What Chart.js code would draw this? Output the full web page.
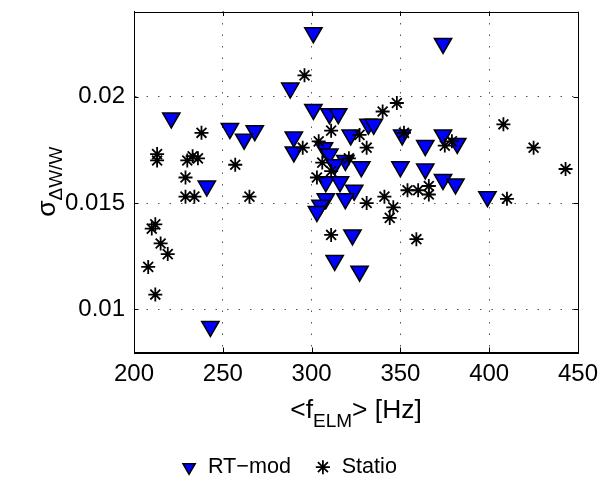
<!DOCTYPE html>
<html>
<head>
<meta charset="utf-8">
<script src="https://cdn.jsdelivr.net/npm/chart.js@4.4.1/dist/chart.umd.min.js"></script>
<style>
  body { margin: 0; background: #fff; }
  canvas { display: block; }
</style>
</head>
<body>
<canvas id="elm-scatter" width="602" height="497"></canvas>
<script>
const xTicks = [200, 250, 300, 350, 400, 450];
const yTicks = [0.01, 0.015, 0.02];
const yTickLabels = ["0.01", "0.015", "0.02"];

// RT-mod series: <f_ELM> [Hz] and sigma
const rtModF = [301, 374, 288, 301, 310, 315, 221, 332, 335, 254, 268, 290, 322, 351, 374,
    262, 382, 290, 307, 364, 310, 319, 313, 328, 350, 364, 374, 381, 241, 308,
    316, 324, 308, 319, 399, 305, 303, 323, 313, 327, 243];
const rtModSigma = [0.0230, 0.0225, 0.0204, 0.0194, 0.0192, 0.0192, 0.0190, 0.0187, 0.0187, 0.0185, 0.0184, 0.0181, 0.0182, 0.0182, 0.0182,
    0.0180, 0.0178, 0.0174, 0.0176, 0.0177, 0.0173, 0.0170, 0.0168, 0.0167, 0.0167, 0.0166, 0.0161, 0.0159, 0.0158, 0.0160,
    0.0160, 0.0156, 0.0152, 0.0152, 0.0153, 0.0149, 0.0146, 0.0135, 0.0123, 0.0118, 0.0092];

// Statio series
const statioF = [296, 348, 340, 311, 238, 327, 352, 304, 379, 408, 295, 331, 375, 425, 213,
    213, 230, 233, 236, 321, 306, 257, 443, 311, 229, 303, 229, 234, 265, 354,
    360, 366, 366, 341, 410, 331, 346, 344, 210, 212, 311, 359, 215, 219, 208, 212];
const statioSigma = [0.0210, 0.0197, 0.0193, 0.0184, 0.0183, 0.0182, 0.0183, 0.0179, 0.0179, 0.0187, 0.0176, 0.0176, 0.0177, 0.0176, 0.0173,
    0.0170, 0.0170, 0.0172, 0.0171, 0.0171, 0.0169, 0.0168, 0.0166, 0.0165, 0.0162, 0.0162, 0.0153, 0.0153, 0.0153, 0.0156,
    0.0156, 0.0158, 0.0154, 0.0153, 0.0152, 0.0150, 0.0148, 0.0143, 0.0138, 0.0140, 0.0135, 0.0133, 0.0131, 0.0126, 0.0120, 0.0107];

const FONT = '"Liberation Sans", Arial, sans-serif';
Chart.defaults.font.family = FONT;
Chart.defaults.color = "#000";

// text with a subscript part, centred on x
function drawRich(ctx, parts, x, y, mainSize, subSize, subDrop) {
    let total = 0;
    parts.forEach(p => {
        ctx.font = (p.sub ? subSize : mainSize) + "px " + FONT;
        p.w = ctx.measureText(p.t).width;
        total += p.w;
    });
    let cx = x - total / 2;
    parts.forEach(p => {
        ctx.font = (p.sub ? subSize : mainSize) + "px " + FONT;
        ctx.fillText(p.t, cx, p.sub ? y + subDrop : y);
        cx += p.w;
    });
}

const framePlugin = {
    id: "frame",
    afterDraw(chart) {
        const {ctx, chartArea: a, scales: {x, y}} = chart;
        ctx.save();
        ctx.strokeStyle = "#000";
        ctx.lineWidth = 1;
        ctx.strokeRect(Math.round(a.left) + 0.5, Math.round(a.top) + 0.5,
            Math.round(a.right - a.left), Math.round(a.bottom - a.top));
        const tick = 4.5;
        ctx.beginPath();
        xTicks.slice(1, -1).forEach(v => {
            const px = Math.round(x.getPixelForValue(v)) + 0.5;
            ctx.moveTo(px, a.bottom); ctx.lineTo(px, a.bottom - tick);
            ctx.moveTo(px, a.top); ctx.lineTo(px, a.top + tick);
        });
        yTicks.forEach(v => {
            const py = Math.round(y.getPixelForValue(v)) + 0.5;
            ctx.moveTo(a.left, py); ctx.lineTo(a.left + tick, py);
            ctx.moveTo(a.right, py); ctx.lineTo(a.right - tick, py);
        });
        ctx.stroke();

        ctx.fillStyle = "#000";
        ctx.textAlign = "left";
        ctx.textBaseline = "alphabetic";
        drawRich(ctx, [{t: "<f"}, {t: "ELM", sub: true}, {t: "> [Hz]"}],
            (a.left + a.right) / 2, 418, 26.4, 19, 9);

        ctx.translate(55, (a.top + a.bottom) / 2);
        ctx.rotate(-Math.PI / 2);
        drawRich(ctx, [{t: "σ"}, {t: "ΔW/W", sub: true}], 0, 0, 26.4, 19, 7);
        ctx.restore();
    }
};

const gridStyle = {color: "#555", lineWidth: 1, drawTicks: false};

new Chart(document.getElementById("elm-scatter"), {
    type: "scatter",
    data: {
        datasets: [{
            label: "RT−mod",
            data: rtModF.map((f, i) => ({x: f, y: rtModSigma[i]})),
            pointStyle: "triangle",
            pointRotation: 180,
            pointRadius: 10,
            pointHoverRadius: 10,
            backgroundColor: "#0000ff",
            borderColor: "#000",
            borderWidth: 1.5,
            order: 1
        }, {
            label: "Statio",
            data: statioF.map((f, i) => ({x: f, y: statioSigma[i]})),
            pointStyle: "star",
            pointRadius: 7,
            pointHoverRadius: 7,
            backgroundColor: "#000",
            borderColor: "#000",
            borderWidth: 1.8,
            order: 0
        }]
    },
    options: {
        responsive: false,
        animation: false,
        layout: {padding: {left: 0, right: 24, top: 5, bottom: 9}},
        scales: {
            x: {
                type: "linear",
                min: 200, max: 450,
                afterBuildTicks: s => { s.ticks = xTicks.map(v => ({value: v})); },
                afterFit: s => { s.height = 80.4; s.paddingLeft = 0; s.paddingRight = 0; },
                ticks: {font: {size: 24}, color: "#000", padding: 8, maxRotation: 0},
                grid: gridStyle,
                border: {display: true, color: "#000", dash: [1.5, 10]}
            },
            y: {
                min: 0.008, max: 0.024,
                afterBuildTicks: s => { s.ticks = yTicks.map(v => ({value: v})); },
                afterFit: s => { s.width = 134; s.paddingTop = 0; s.paddingBottom = 0; },
                ticks: {
                    font: {size: 24}, color: "#000", padding: 9,
                    callback: v => yTickLabels[yTicks.indexOf(v)] ?? ""
                },
                grid: gridStyle,
                border: {display: true, color: "#000", dash: [1.5, 10]}
            }
        },
        plugins: {
            legend: {
                position: "bottom",
                labels: {
                    usePointStyle: true,
                    boxWidth: 16,
                    boxHeight: 10,
                    padding: 24,
                    font: {size: 21.6},
                    color: "#000",
                    sort: (a, b) => a.datasetIndex - b.datasetIndex
                }
            },
            tooltip: {enabled: false}
        }
    },
    plugins: [framePlugin]
});
</script>
</body>
</html>
